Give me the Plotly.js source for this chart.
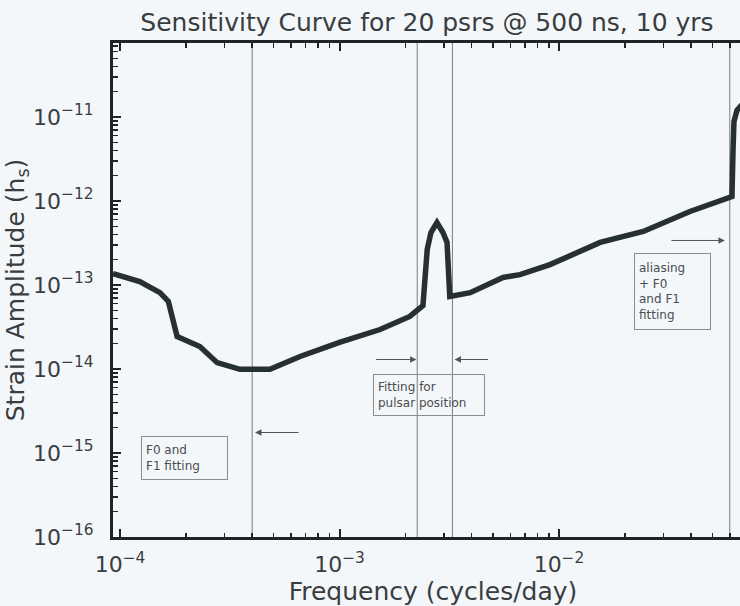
<!DOCTYPE html>
<html>
<head>
<meta charset="utf-8">
<script src="https://cdn.plot.ly/plotly-3.0.1.min.js"></script>
<style>
html, body { margin: 0; padding: 0; overflow: hidden; background: #f3f7fa; }
#chart { width: 760px; height: 606px; }
</style>
</head>
<body>
<div id="chart"></div>
<script>
// Sensitivity curve (frequency in cycles/day, strain amplitude h_s)
const freq = [9.29e-5, 1.23e-4, 1.52e-4, 1.66e-4, 1.82e-4, 2.31e-4, 2.77e-4, 3.52e-4, 4.82e-4,
  6.61e-4, 1.00e-3, 1.53e-3, 2.09e-3, 2.40e-3, 2.51e-3, 2.61e-3, 2.78e-3, 2.96e-3, 3.09e-3,
  3.18e-3, 3.94e-3, 5.56e-3, 6.64e-3, 9.10e-3, 1.54e-2, 2.42e-2, 3.95e-2, 6.14e-2, 6.21e-2,
  6.27e-2, 6.47e-2, 6.89e-2, 7.5e-2];
const strain = [1.37e-13, 1.10e-13, 8.1e-14, 6.4e-14, 2.44e-14, 1.85e-14, 1.19e-14, 9.9e-15, 9.9e-15,
  1.41e-14, 2.07e-14, 2.95e-14, 4.22e-14, 5.70e-14, 2.65e-13, 4.22e-13, 5.55e-13, 4.22e-13, 3.21e-13,
  7.3e-14, 8.1e-14, 1.23e-13, 1.33e-13, 1.75e-13, 3.21e-13, 4.34e-13, 7.5e-13, 1.13e-12, 4.1e-12,
  8.8e-12, 1.2e-11, 1.45e-11, 1.6e-11];

// Vertical marker lines (cycles/day)
const vlines = [4e-4, 2.26e-3, 3.27e-3, 6.0e-2];

// Tick labels
const xTickVals = [1e-4, 1e-3, 1e-2, 1e-1];
const xTickText = ['10<sup>\u22124</sup>', '10<sup>\u22123</sup>', '10<sup>\u22122</sup>', '10<sup>\u22121</sup>'];
const yTickVals = [1e-16, 1e-15, 1e-14, 1e-13, 1e-12, 1e-11, 1e-10];
const yTickText = ['10<sup>\u221216</sup>', '10<sup>\u221215</sup>', '10<sup>\u221214</sup>',
  '10<sup>\u221213</sup>', '10<sup>\u221212</sup>', '10<sup>\u221211</sup>', '10<sup>\u221210</sup>'];

// Annotation texts
const boxTexts = ['F0 and<br>F1 fitting', 'Fitting for<br>pulsar position', 'aliasing<br>+ F0<br>and F1<br>fitting'];

function minorVals(lo, hi) {
  const out = [];
  for (let e = lo; e < hi; e++) for (let m = 2; m <= 9; m++) out.push(m * Math.pow(10, e));
  return out;
}

const ink = '#1f2424';
const txt = '#3a3d3f';
const bg = '#f3f7fa';
const fontFam = 'DejaVu Sans, sans-serif';
const xRange = [-4.032, -1.116];
const yRange = [-16, -10.119];

const traces = vlines.map(v => ({
  x: [v, v], y: [1e-17, 1e-9], mode: 'lines', type: 'scatter',
  line: { color: '#7a7d80', width: 1 }, hoverinfo: 'skip', showlegend: false
}));
traces.push({
  x: freq, y: strain, mode: 'lines', type: 'scatter',
  line: { color: '#263030', width: 5.5 }, hoverinfo: 'skip', showlegend: false
});
// invisible trace carrying the minor-tick overlay axes
traces.push({
  x: [1e-3], y: [1e-13], xaxis: 'x2', yaxis: 'y2', mode: 'markers', type: 'scatter',
  marker: { opacity: 0 }, hoverinfo: 'skip', showlegend: false
});

const boxFont = { family: fontFam, size: 12, color: '#4a4d50' };
const annotations = [
  { x: -3.706, y: -15.054, xref: 'x', yref: 'y', text: boxTexts[0], showarrow: false, align: 'left',
    width: 77, height: 34, borderpad: 4, bordercolor: '#8a8d90', borderwidth: 1, font: boxFont },
  { x: -2.590, y: -14.304, xref: 'x', yref: 'y', text: boxTexts[1], showarrow: false, align: 'left',
    width: 102, height: 32, borderpad: 4, bordercolor: '#8a8d90', borderwidth: 1, font: boxFont },
  { x: -1.483, y: -13.083, xref: 'x', yref: 'y', text: boxTexts[2], showarrow: false, align: 'left',
    width: 67, height: 67, borderpad: 4, bordercolor: '#8a8d90', borderwidth: 1, font: boxFont },
  { x: -3.385, y: -14.756, xref: 'x', yref: 'y', text: '', showarrow: true, ax: 45, ay: 0,
    arrowhead: 2, arrowsize: 1.3, arrowwidth: 1, arrowcolor: '#555' },
  { x: -2.649, y: -13.887, xref: 'x', yref: 'y', text: '', showarrow: true, ax: -42, ay: 0,
    arrowhead: 2, arrowsize: 1.3, arrowwidth: 1, arrowcolor: '#555' },
  { x: -2.476, y: -13.887, xref: 'x', yref: 'y', text: '', showarrow: true, ax: 35, ay: 0,
    arrowhead: 2, arrowsize: 1.3, arrowwidth: 1, arrowcolor: '#555' },
  { x: -1.244, y: -12.470, xref: 'x', yref: 'y', text: '', showarrow: true, ax: -55, ay: 0,
    arrowhead: 2, arrowsize: 1.3, arrowwidth: 1, arrowcolor: '#555' }
];

const tickFont = { family: fontFam, size: 22, color: txt };

const layout = {
  width: 760, height: 606,
  margin: { l: 113, r: 7, t: 43, b: 69 },
  paper_bgcolor: bg, plot_bgcolor: bg,
  showlegend: false,
  font: { family: fontFam, color: txt },
  title: { text: 'Sensitivity Curve for 20 psrs @ 500 ns, 10 yrs',
    font: { family: fontFam, size: 25, color: txt },
    xref: 'container', x: 427 / 760, xanchor: 'center',
    yref: 'container', y: 1 - 22 / 606, yanchor: 'middle' },
  xaxis: {
    type: 'log', range: xRange,
    title: { text: 'Frequency (cycles/day)', font: { family: fontFam, size: 25, color: txt }, standoff: 6 },
    tickvals: xTickVals, ticktext: xTickText, tickfont: tickFont,
    ticks: 'inside', ticklen: 8, tickwidth: 2, tickcolor: ink,
    showline: true, linecolor: ink, linewidth: 3, mirror: 'ticks',
    showgrid: false, zeroline: false, ticklabelstandoff: 6
  },
  yaxis: {
    type: 'log', range: yRange,
    title: { text: 'Strain Amplitude (h<sub>s</sub>)', font: { family: fontFam, size: 25, color: txt }, standoff: 0 },
    tickvals: yTickVals, ticktext: yTickText, tickfont: tickFont,
    ticks: 'inside', ticklen: 8, tickwidth: 2, tickcolor: ink,
    showline: true, linecolor: ink, linewidth: 3, mirror: 'ticks',
    showgrid: false, zeroline: false, ticklabelstandoff: 12
  },
  xaxis2: {
    type: 'log', range: xRange, overlaying: 'x', anchor: 'y2', side: 'bottom',
    tickvals: minorVals(-5, 0), showticklabels: false,
    ticks: 'inside', ticklen: 4.5, tickwidth: 1.5, tickcolor: ink,
    showline: false, mirror: 'ticks', showgrid: false, zeroline: false
  },
  yaxis2: {
    type: 'log', range: yRange, overlaying: 'y', anchor: 'x2', side: 'left',
    tickvals: minorVals(-17, -9), showticklabels: false,
    ticks: 'inside', ticklen: 4.5, tickwidth: 1.5, tickcolor: ink,
    showline: false, mirror: 'ticks', showgrid: false, zeroline: false
  },
  annotations: annotations
};

Plotly.newPlot('chart', traces, layout, { displayModeBar: false, staticPlot: true });
</script>
</body>
</html>
